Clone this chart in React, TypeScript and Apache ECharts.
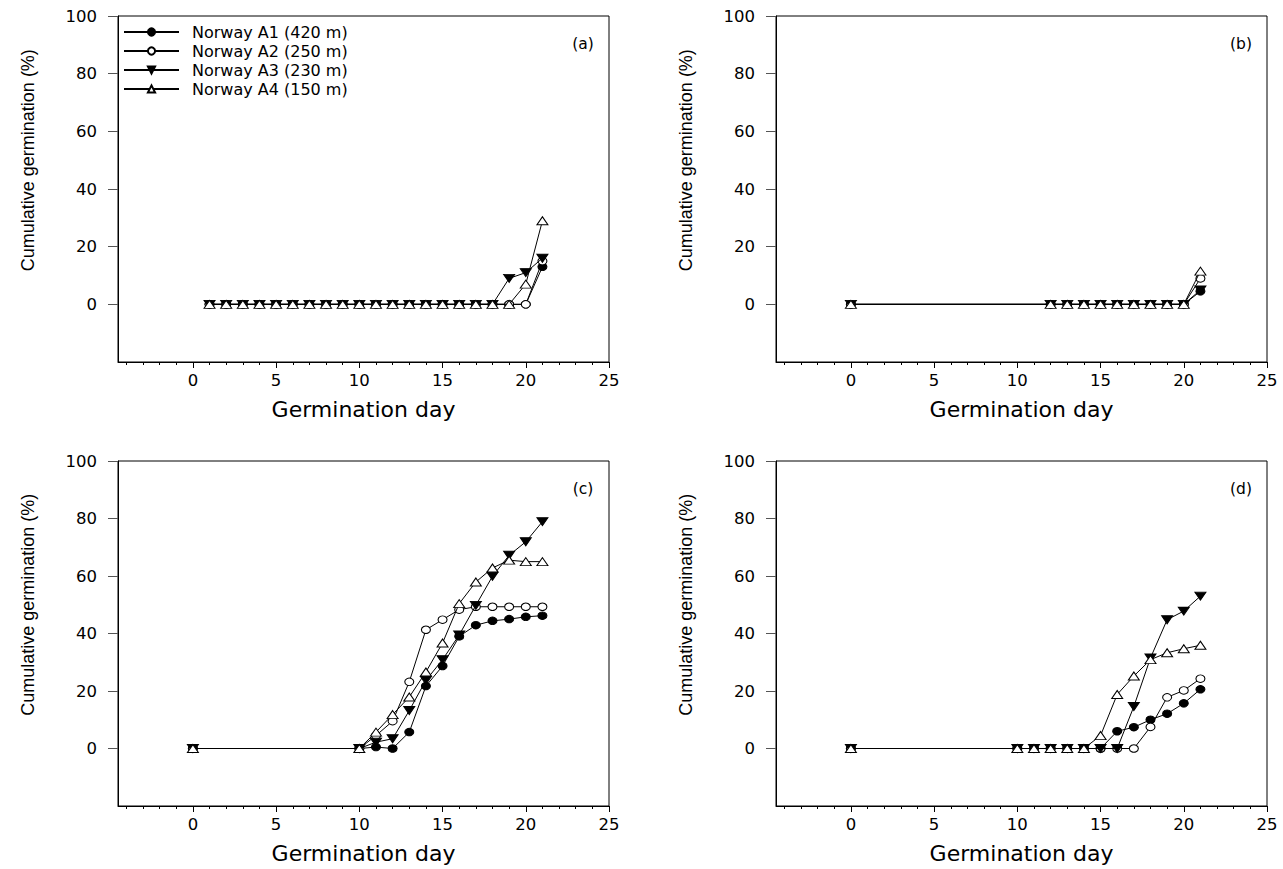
import React, { useEffect, useRef } from "react";
import * as echarts from "echarts";

const seriesNames = ["Norway A1 (420 m)", "Norway A2 (250 m)", "Norway A3 (230 m)", "Norway A4 (150 m)"];
const panelLabels = ["(a)", "(b)", "(c)", "(d)"];
const xTickLabels = [0, 5, 10, 15, 20, 25];
const xMinorTicks = [-4, -3, -2, -1, 0, 1, 2, 3, 4, 5, 6, 7, 8, 9, 10, 11, 12, 13, 14, 15, 16, 17, 18, 19, 20, 21, 22, 23, 24, 25];
const yTickLabels = [0, 20, 40, 60, 80, 100];
const xTitle = "Germination day";
const yTitle = "Cumulative germination (%)";

// Panel (a)
const daysA = [1, 2, 3, 4, 5, 6, 7, 8, 9, 10, 11, 12, 13, 14, 15, 16, 17, 18, 19, 20, 21];
const a1A = [0, 0, 0, 0, 0, 0, 0, 0, 0, 0, 0, 0, 0, 0, 0, 0, 0, 0, 0, 0, 13];
const a2A = [0, 0, 0, 0, 0, 0, 0, 0, 0, 0, 0, 0, 0, 0, 0, 0, 0, 0, 0, 0, 15];
const a3A = [0, 0, 0, 0, 0, 0, 0, 0, 0, 0, 0, 0, 0, 0, 0, 0, 0, 0, 9, 11, 16];
const a4A = [0, 0, 0, 0, 0, 0, 0, 0, 0, 0, 0, 0, 0, 0, 0, 0, 0, 0, 0, 7, 29];

// Panel (b)
const daysB = [0, 12, 13, 14, 15, 16, 17, 18, 19, 20, 21];
const a1B = [0, 0, 0, 0, 0, 0, 0, 0, 0, 0, 4.5];
const a2B = [0, 0, 0, 0, 0, 0, 0, 0, 0, 0, 9];
const a3B = [0, 0, 0, 0, 0, 0, 0, 0, 0, 0, 5];
const a4B = [0, 0, 0, 0, 0, 0, 0, 0, 0, 0, 11.5];

// Panel (c)
const daysC = [0, 10, 11, 12, 13, 14, 15, 16, 17, 18, 19, 20, 21];
const a1C = [0, 0, 0.5, 0, 5.7, 21.7, 28.7, 39, 42.9, 44.4, 45, 45.8, 46.2];
const a2C = [0, 0, 4.5, 9.5, 23.2, 41.3, 44.8, 48.3, 49.3, 49.3, 49.3, 49.3, 49.3];
const a3C = [0, 0, 2.2, 3.4, 13.2, 23.7, 30.9, 39.5, 49.8, 59.9, 67.2, 71.9, 78.9];
const a4C = [0, 0, 5.7, 11.8, 17.9, 26.6, 36.7, 50.4, 57.9, 62.8, 65.5, 65, 65];

// Panel (d)
const daysD = [0, 10, 11, 12, 13, 14, 15, 16, 17, 18, 19, 20, 21];
const a1D = [0, 0, 0, 0, 0, 0, 0, 6, 7.4, 10, 12.1, 15.7, 20.6];
const a2D = [0, 0, 0, 0, 0, 0, 0, 0, 0, 7.5, 17.8, 20.2, 24.3];
const a3D = [0, 0, 0, 0, 0, 0, 0, 0, 14.6, 31.5, 44.8, 47.8, 53];
const a4D = [0, 0, 0, 0, 0, 0, 4.5, 18.8, 25.2, 30.9, 33.3, 34.7, 35.9];

const panels = [
  { days: daysA, values: [a1A, a2A, a3A, a4A] },
  { days: daysB, values: [a1B, a2B, a3B, a4B] },
  { days: daysC, values: [a1C, a2C, a3C, a4C] },
  { days: daysD, values: [a1D, a2D, a3D, a4D] },
];

const gridBoxes = [
  { left: 118, top: 16, width: 491, height: 346 },
  { left: 776, top: 16, width: 491, height: 346 },
  { left: 118, top: 461, width: 491, height: 345 },
  { left: 776, top: 461, width: 491, height: 345 },
];

const markerStyles = [
  { symbol: "circle", size: [9, 7.5], fill: "#000", rotate: 0 },
  { symbol: "circle", size: [9, 7.5], fill: "#fff", rotate: 0 },
  { symbol: "triangle", size: [11, 8], fill: "#000", rotate: 180 },
  { symbol: "triangle", size: [11, 8], fill: "#fff", rotate: 0 },
];

const drawOrder = [0, 1, 3, 2];

export default function App() {
  const ref = useRef<HTMLDivElement>(null);
  useEffect(() => {
    document.body.style.margin = "0";
    const chart = echarts.init(ref.current!, undefined, { renderer: "svg" });
    const tickFont = "DejaVu Sans";
    const grid: any[] = [];
    const xAxis: any[] = [];
    const yAxis: any[] = [];
    const series: any[] = [];
    const graphic: any[] = [];

    gridBoxes.forEach((g, i) => {
      grid.push({ ...g, show: true, borderColor: "#000", borderWidth: 1, backgroundColor: "transparent" });
      xAxis.push({
        gridIndex: i,
        type: "value",
        position: "bottom",
        min: -4.5,
        max: 25,
        name: xTitle,
        nameLocation: "middle",
        nameGap: 36,
        nameTextStyle: { fontFamily: "DejaVu Sans", fontSize: 22, color: "#000" },
        axisLine: { show: true, onZero: false, lineStyle: { color: "#000", width: 1 } },
        axisTick: { show: true, inside: false, length: 6, customValues: xTickLabels, lineStyle: { color: "#000" } },
        axisLabel: { show: true, customValues: xTickLabels, margin: 10, fontFamily: tickFont, fontSize: 16.5, color: "#000" },
        splitLine: { show: false },
      });
      xAxis.push({
        gridIndex: i,
        type: "value",
        position: "bottom",
        offset: 0,
        min: -4.5,
        max: 25,
        axisLine: { show: false, onZero: false },
        axisTick: { show: true, inside: false, length: 3, customValues: xMinorTicks, lineStyle: { color: "#000" } },
        axisLabel: { show: false },
        splitLine: { show: false },
      });
      yAxis.push({
        gridIndex: i,
        type: "value",
        min: -20,
        max: 100,
        interval: 20,
        axisLine: { show: true, onZero: false, lineStyle: { color: "#000", width: 1 } },
        axisTick: { show: true, inside: false, length: 10, customValues: yTickLabels, lineStyle: { color: "#555" } },
        axisLabel: { show: true, customValues: yTickLabels, margin: 21, fontFamily: tickFont, fontSize: 16.5, color: "#000" },
        splitLine: { show: false },
      });

      const p = panels[i];
      drawOrder.forEach((s) => {
        const m = markerStyles[s];
        series.push({
          name: seriesNames[s],
          type: "line",
          xAxisIndex: i * 2,
          yAxisIndex: i,
          data: p.days.map((d, k) => [d, p.values[s][k]]),
          symbol: m.symbol,
          symbolSize: m.size,
          symbolRotate: m.rotate,
          showAllSymbol: true,
          lineStyle: { color: "#000", width: 1 },
          itemStyle: { color: m.fill, borderColor: "#000", borderWidth: 1 },
          emphasis: { disabled: true },
          z: 2 + s,
        });
      });

      const cx = g.left + g.width;
      graphic.push({
        type: "text",
        x: cx - 26,
        y: g.top + 28,
        style: { text: panelLabels[i], font: '15.5px "DejaVu Sans"', fill: "#000", align: "center", verticalAlign: "middle" },
      });
      const y0 = g.top + (g.height * 100) / 120;
      graphic.push({
        type: "text",
        x: g.left - 90,
        y: (g.top + y0) / 2,
        rotation: Math.PI / 2,
        style: { text: yTitle, font: '18px "Liberation Sans"', fill: "#000", align: "center", verticalAlign: "middle" },
      });
    });

    chart.setOption({
      animation: false,
      backgroundColor: "#fff",
      grid,
      xAxis,
      yAxis,
      series,
      graphic,
      legend: {
        data: seriesNames,
        orient: "vertical",
        left: 123,
        top: 24,
        padding: 0,
        itemWidth: 55,
        itemHeight: 9,
        itemGap: 3,
        textStyle: { fontFamily: "DejaVu Sans", fontSize: 16, color: "#000", padding: [0, 0, 0, 8] },
        selectedMode: false,
      },
    });
    return () => chart.dispose();
  }, []);
  return <div ref={ref} style={{ width: 1283, height: 869 }} />;
}
